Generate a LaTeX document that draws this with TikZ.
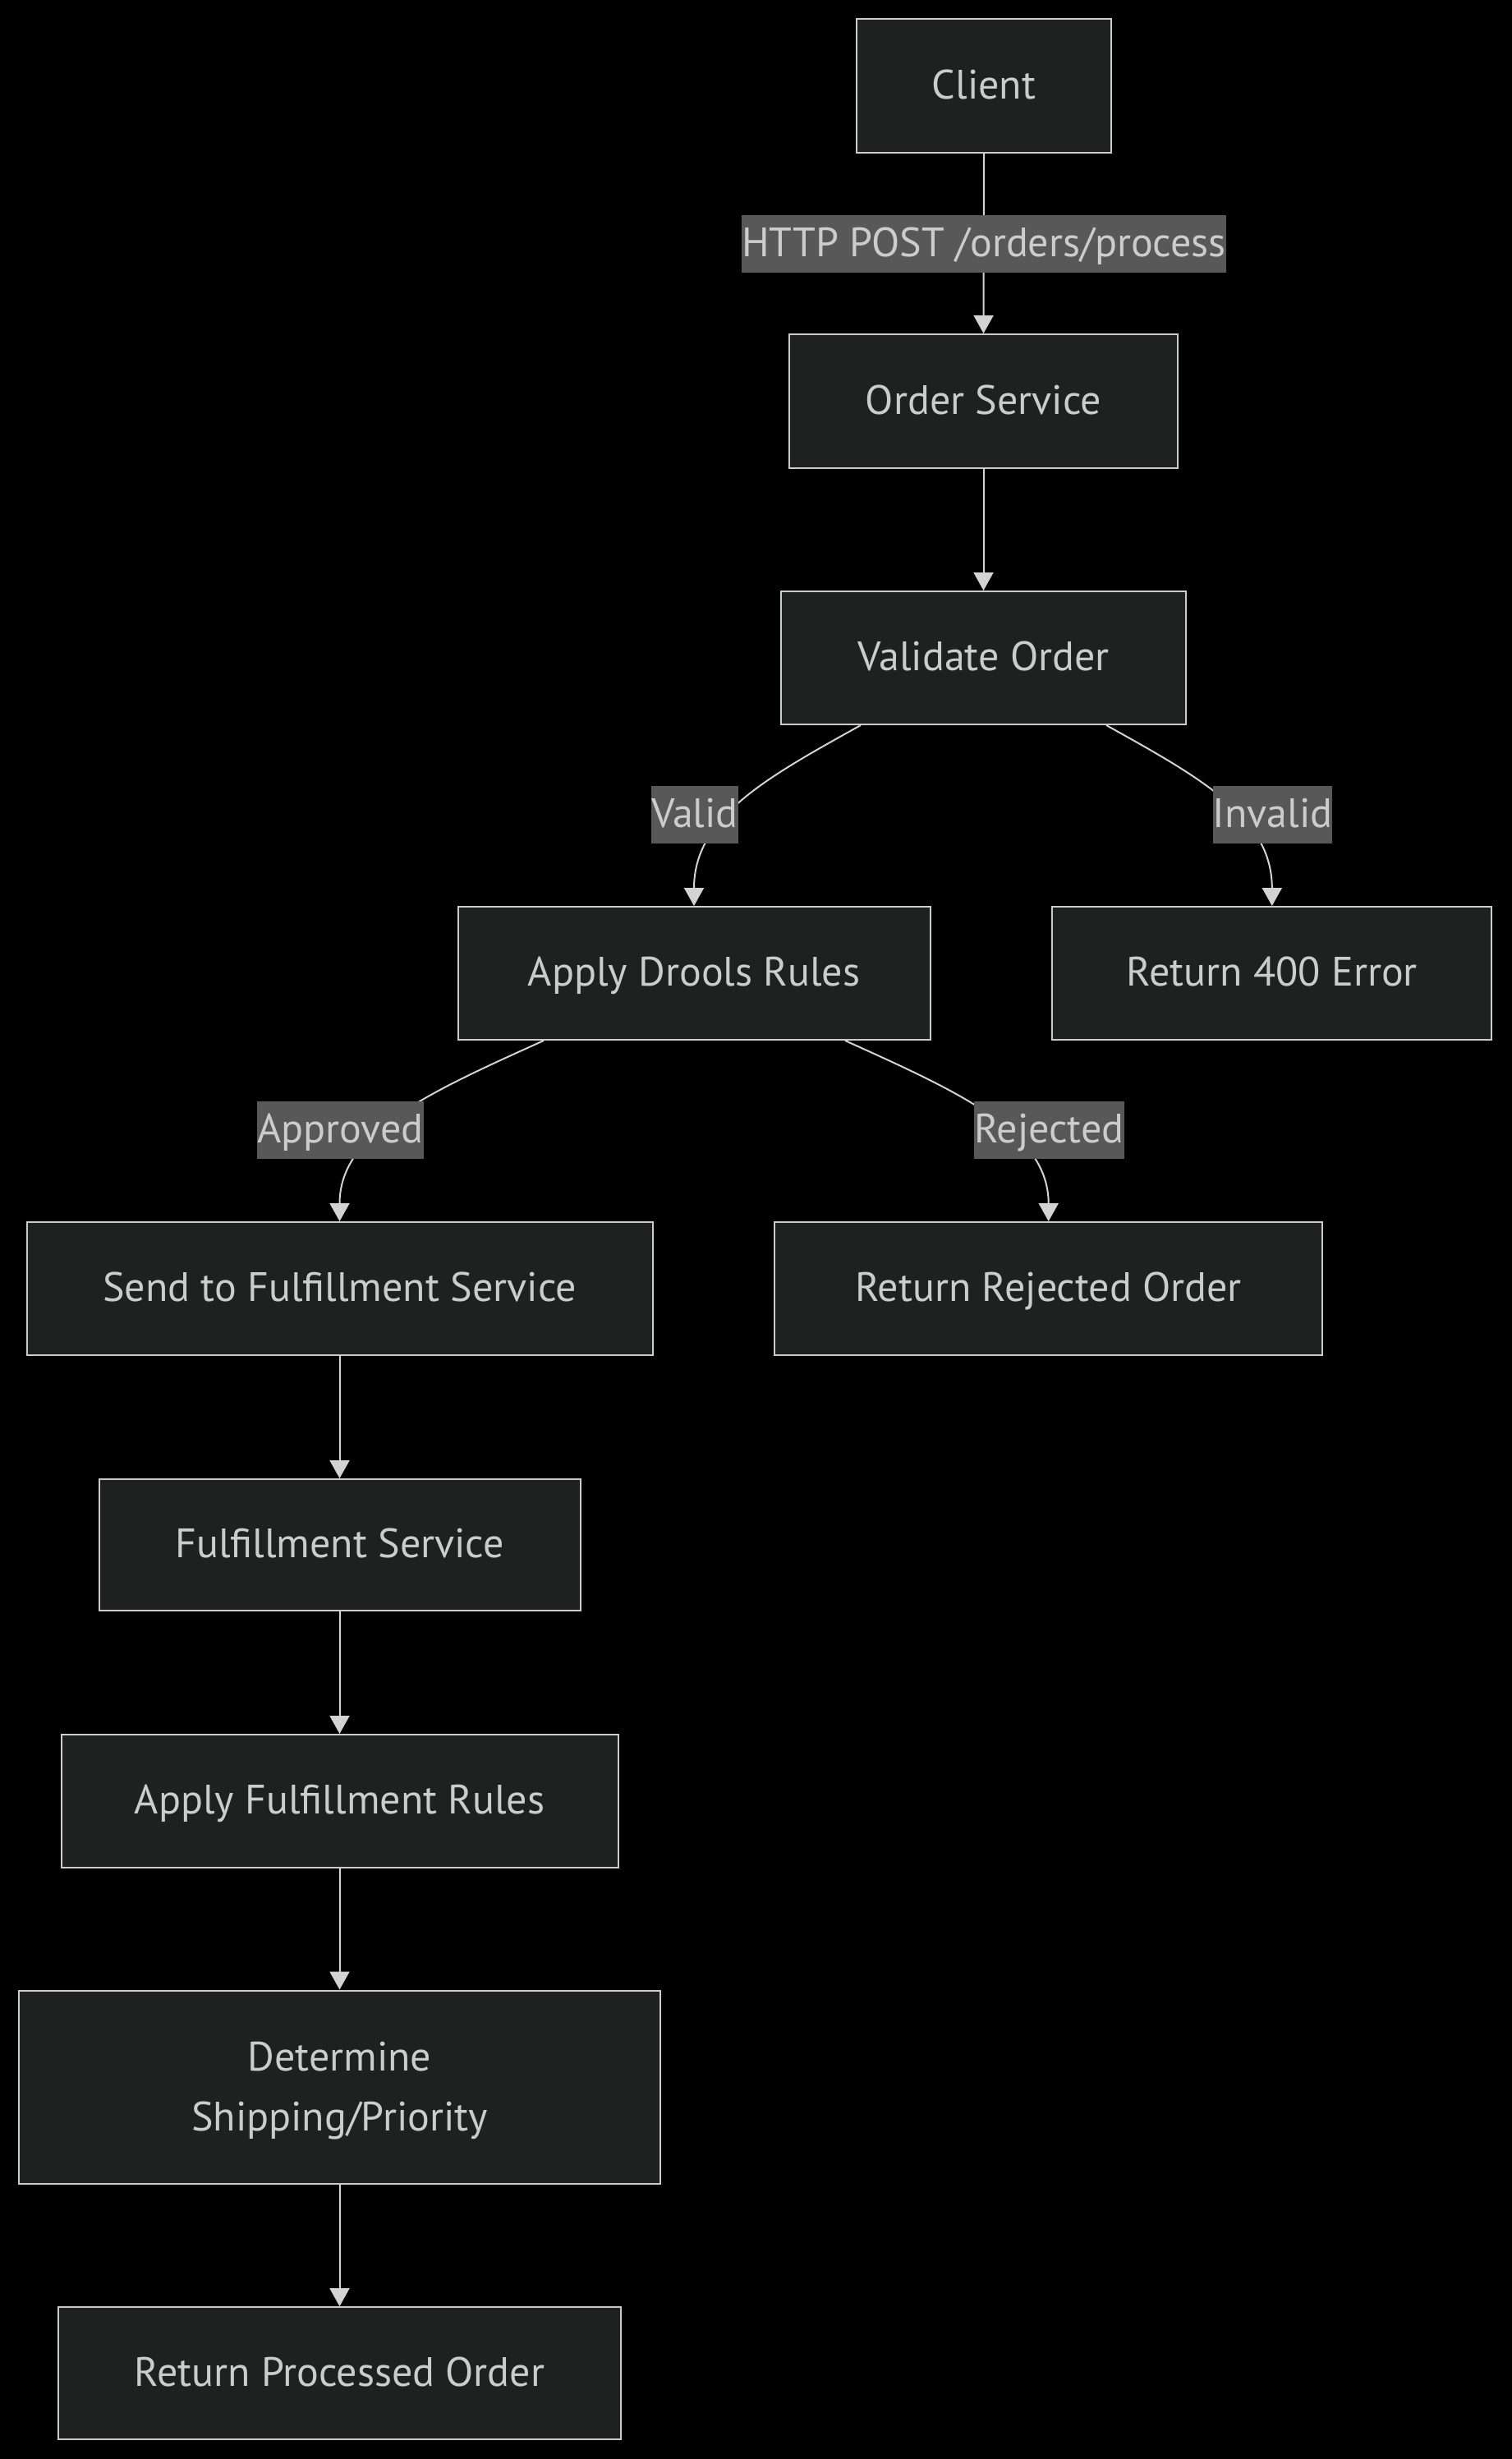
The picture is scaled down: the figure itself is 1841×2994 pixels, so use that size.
\documentclass[tikz,border=0pt]{standalone}
\usepackage{fontspec}
\setmainfont{PT Sans}
\usetikzlibrary{arrows.meta,calc}
\definecolor{bgc}{HTML}{000000}
\definecolor{nodefill}{HTML}{1F2020}
\definecolor{nodeborder}{HTML}{CCCCCC}
\definecolor{txt}{HTML}{CCCCCC}
\definecolor{lblbg}{HTML}{585858}
\definecolor{edgec}{HTML}{D3D3D3}
\begin{document}
\begin{tikzpicture}[x=0.5pt,y=-0.5pt,
  box/.style={draw=nodeborder, fill=nodefill, line width=1pt, text=txt,
    font=\fontsize{25}{36.3}\selectfont, inner sep=0pt, align=center,
    text height=22pt, text depth=6.5pt},
  tallbox/.style={box, text height={}, text depth={}},
  lab/.style={fill=lblbg, text=txt, font=\fontsize{25}{30}\selectfont,
    inner xsep=0pt, inner ysep=0pt, minimum height=35pt,
    text height=22pt, text depth=6.5pt},
  edge/.style={draw=edgec, line width=1pt, -{Triangle[length=11pt,width=12pt]}}]
\fill[bgc] (0,0) rectangle (1841,2994);
\useasboundingbox (0,0) rectangle (1841,2994);
% nodes
\node[box, minimum width=155pt, minimum height=81.5pt] (client) at (1198,104.5) {Client};
\node[box, minimum width=236.5pt, minimum height=81.5pt] (os) at (1197.5,488.5) {Order Service};
\node[box, minimum width=246.5pt, minimum height=81pt] (vo) at (1197.5,801) {Validate Order};
\node[box, minimum width=287.5pt, minimum height=81pt] (adr) at (845,1185) {Apply Drools Rules};
\node[box, minimum width=267.5pt, minimum height=81pt] (r400) at (1548.8,1185) {Return 400 Error};
\node[box, minimum width=381pt, minimum height=81pt] (send) at (413.5,1569) {Send to Fulfillment Service};
\node[box, minimum width=333.25pt, minimum height=81pt] (rro) at (1276.7,1569) {Return Rejected Order};
\node[box, minimum width=293pt, minimum height=80pt] (fs) at (413.5,1881) {Fulfillment Service};
\node[box, minimum width=339pt, minimum height=81pt] (afr) at (413.5,2193) {Apply Fulfillment Rules};
\node[tallbox, minimum width=390.5pt, minimum height=117.5pt] (det) at (413.5,2541) {\rule{0pt}{22pt}Determine\\Shipping/Priority};
\node[box, minimum width=342.75pt, minimum height=80.5pt] (rpo) at (413.5,2889.6) {Return Processed Order};
% edges
\draw[edge] (client.south) -- (os.north);
\draw[edge] (os.south) -- (vo.north);
\draw[edge] ($(vo.south)+(-149.5,0)$) .. controls +(-115,64) and +(0,-108) .. (adr.north);
\draw[edge] ($(vo.south)+(149.5,0)$) .. controls +(115,64) and +(0,-108) .. (r400.north);
\draw[edge] ($(adr.south)+(-183,0)$) .. controls +(-142,64) and +(0,-108) .. (send.north);
\draw[edge] ($(adr.south)+(184,0)$) .. controls +(142,64) and +(0,-108) .. (rro.north);
\draw[edge] (send.south) -- (fs.north);
\draw[edge] (fs.south) -- (afr.north);
\draw[edge] (afr.south) -- (det.north);
\draw[edge] (det.south) -- (rpo.north);
% edge labels
\node[lab] (lhttp) at (1198,297) {HTTP POST /orders/process};
\node[lab] (lvalid) at (846,992) {Valid};
\node[lab] (linvalid) at (1549.5,992) {Invalid};
\node[lab] (lapproved) at (414.5,1376) {Approved};
\node[lab] (lrejected) at (1277.5,1376) {Rejected};
\end{tikzpicture}
\end{document}
